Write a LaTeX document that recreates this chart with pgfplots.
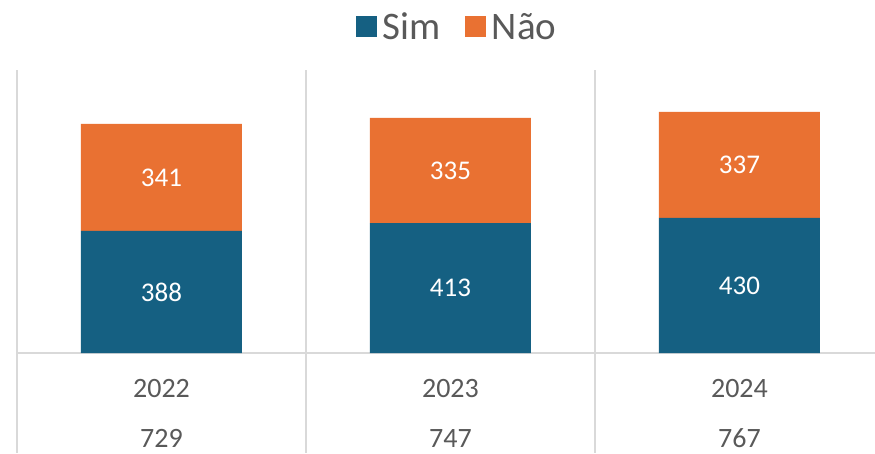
\documentclass[border=0pt]{standalone}
\usepackage{pgfplots}
\pgfplotsset{compat=1.18}
\usepackage{fontspec}
\setmainfont{Carlito}
\definecolor{simblue}{HTML}{156082}
\definecolor{naoorange}{HTML}{E97132}
\definecolor{gridgray}{HTML}{D9D9D9}
\definecolor{txtgray}{HTML}{595959}
\begin{document}
\begin{tikzpicture}
\path[use as bounding box] (0,0) rectangle (875pt,453pt);
\pgfplotsset{common/.style={
  scale only axis, width=858pt, height=283pt,
  at={(17pt,100pt)}, anchor=south west,
  xmin=-0.5, xmax=2.469, ymin=0, ymax=900,
  /pgf/number format/assume math mode=true,
}}
\begin{axis}[common,
  ybar stacked, bar width=161pt,
  clip=false,
  axis y line=none, axis x line*=bottom,
  x axis line style={draw=gridgray, line width=1.2pt},
  ytick=\empty,
  xtick={0,1,2},
  xticklabels={{2022\\729},{2023\\747},{2024\\767}},
  major tick length=0pt,
  xticklabel style={align=center, font=\fontsize{28}{50}\selectfont, text=txtgray, anchor=north, inner sep=0pt, yshift=-26pt},
  legend style={at={(0.513,1.152)}, anchor=center, draw=none, fill=none, legend columns=2, font=\fontsize{39}{42}\selectfont, text=txtgray,
    /tikz/every odd column/.append style={column sep=4pt},
    /tikz/every even column/.append style={column sep=22pt}},
  legend image code/.code={\fill[#1] (0pt,-10.5pt) rectangle (21pt,10.5pt);},
]
\draw[gridgray, line width=1.2pt] (axis cs:-0.5,900) -- (axis cs:-0.5,0) -- ++(0pt,-100pt);
\draw[gridgray, line width=1.2pt] (axis cs:0.5,900) -- (axis cs:0.5,0) -- ++(0pt,-100pt);
\draw[gridgray, line width=1.2pt] (axis cs:1.5,900) -- (axis cs:1.5,0) -- ++(0pt,-100pt);
\addplot[fill=simblue, draw=none] coordinates {(0,388) (1,413) (2,430)};
\addplot[fill=naoorange, draw=none] coordinates {(0,341) (1,335) (2,337)};
\legend{Sim, Não}
\end{axis}
\begin{axis}[common, hide axis]
\addplot[only marks, mark=none, nodes near coords, point meta=explicit,
  nodes near coords style={anchor=center, text=white, font=\fontsize{27}{32}\selectfont}]
  coordinates {(0,194) [388] (1,206.5) [413] (2,215) [430] (0,558.5) [341] (1,580.5) [335] (2,598.5) [337]};
\end{axis}
\end{tikzpicture}
\end{document}
